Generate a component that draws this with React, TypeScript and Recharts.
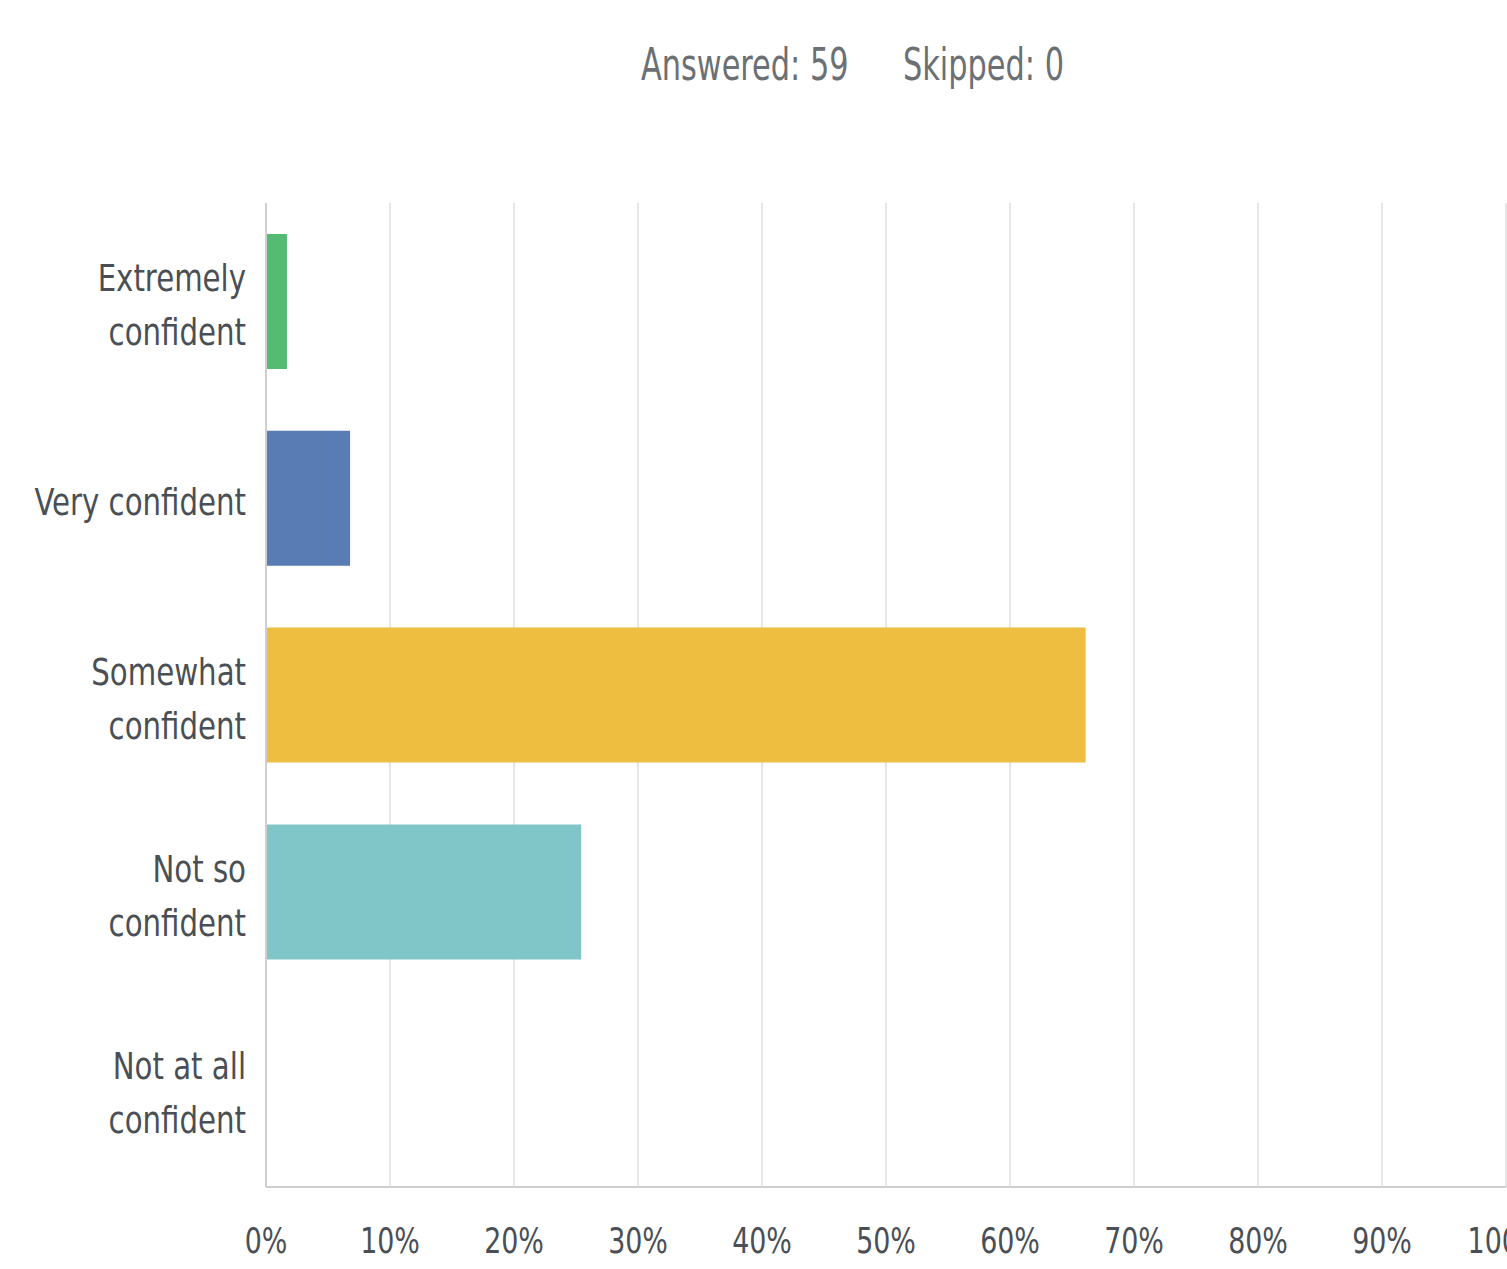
import { Bar, BarChart, CartesianGrid, Cell, XAxis, YAxis } from 'recharts';

const categories = [
  'Extremely\nconfident',
  'Very confident',
  'Somewhat\nconfident',
  'Not so\nconfident',
  'Not at all\nconfident',
];
const percents = [1.69, 6.78, 66.1, 25.42, 0];
const barColors = ['#55bb72', '#597cb4', '#eebe41', '#80c5c8', '#f09b3c'];
const xTicks = [0, 10, 20, 30, 40, 50, 60, 70, 80, 90, 100];
const answered = 59;
const skipped = 0;

const FONT = '"DejaVu Sans Condensed", "DejaVu Sans", sans-serif';

const chartData = categories.map((name, i) => ({ name, value: percents[i] }));

// the original uses a narrow face, so squeeze the text horizontally
const CategoryTick = ({ x, y, payload }: any) => {
  const lines = String(payload.value).split('\n');
  const lineHeight = 54;
  const start = -((lines.length - 1) * lineHeight) / 2;
  return (
    <g transform={`translate(${x},${y}) scale(0.855,1)`}>
      <text x={0} y={0} textAnchor='end' fill='#4a4f55' fontSize={38} fontFamily={FONT}>
        {lines.map((line, i) => (
          <tspan key={line} x={0} dy={i === 0 ? start + 17 : lineHeight}>
            {line}
          </tspan>
        ))}
      </text>
    </g>
  );
};

const PercentTick = ({ x, y, payload }: any) => (
  <g transform={`translate(${x},${y}) scale(0.83,1)`}>
    <text x={0} y={0} dy={50} textAnchor='middle' fill='#4a4f55' fontSize={36} fontFamily={FONT}>
      {`${payload.value}%`}
    </text>
  </g>
);

const headerStyle = {
  position: 'absolute' as const,
  top: 40,
  fontSize: 45,
  color: '#6b7075',
  whiteSpace: 'nowrap' as const,
  lineHeight: '50px',
  transform: 'scaleX(0.75)',
  transformOrigin: 'left center',
};

export default function App() {
  return (
    <div
      style={{
        position: 'absolute',
        left: 0,
        top: 0,
        width: 1507,
        height: 1269,
        overflow: 'hidden',
        background: '#fff',
        fontFamily: FONT,
      }}
    >
      <div style={{ ...headerStyle, left: 641 }}>Answered: {answered}</div>
      <div style={{ ...headerStyle, left: 903 }}>Skipped: {skipped}</div>
      <div style={{ position: 'absolute', left: 0, top: 0 }}>
        <BarChart
          width={1560}
          height={1269}
          data={chartData}
          layout='vertical'
          margin={{ top: 203, right: 54, bottom: 0, left: 0 }}
          barSize={135}
        >
          <CartesianGrid horizontal={false} stroke='#e6e6e6' strokeWidth={2} />
          <XAxis
            type='number'
            domain={[0, 100]}
            ticks={xTicks}
            height={82}
            tickLine={false}
            tickMargin={10}
            axisLine={{ stroke: '#cfcfcf', strokeWidth: 2 }}
            tick={<PercentTick />}
            interval={0}
          />
          <YAxis
            type='category'
            dataKey='name'
            width={266}
            tickLine={false}
            tickMargin={14}
            axisLine={{ stroke: '#cfcfcf', strokeWidth: 2 }}
            tick={<CategoryTick />}
            interval={0}
          />
          <Bar dataKey='value' isAnimationActive={false}>
            {chartData.map((entry, i) => (
              <Cell key={`cell-${entry.name}`} fill={barColors[i]} />
            ))}
          </Bar>
        </BarChart>
      </div>
    </div>
  );
}
